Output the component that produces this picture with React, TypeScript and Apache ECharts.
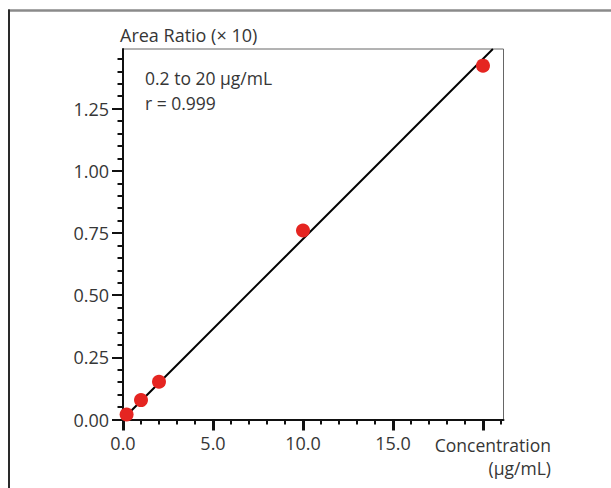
import React, { useEffect, useRef } from 'react';
import * as echarts from 'echarts';

// Calibration data
const concentration = [0.2, 1.0, 2.0, 10.0, 20.0];
const areaRatio = [0.02, 0.078, 0.152, 0.76, 1.423];
// Regression line end points
const fitX = [0, 20.55];
const fitY = [0.002, 1.49];
// Axis ticks / labels
const xMajorTicks = [0, 5, 10, 15, 20];
const xLabelValues = [0, 5, 10, 15];
const yTicks = [0, 0.25, 0.5, 0.75, 1.0, 1.25];
const yAxisTitle = 'Area Ratio (× 10)';
const xAxisTitle = ['Concentration', '(µg/mL)'];
const annotation = ['0.2 to 20 µg/mL', 'r = 0.999'];

const FONT = 'Open Sans';
const TEXT = '#363636';

export default function App() {
  const ref = useRef<HTMLDivElement>(null);
  useEffect(() => {
    if (!ref.current) return;
    const chart = echarts.init(ref.current, null, { renderer: 'svg' });
    chart.setOption({
      animation: false,
      backgroundColor: '#fff',
      grid: {
        left: 123,
        top: 49,
        right: 107.5,
        bottom: 68.5,
        show: true,
        borderColor: '#666',
        borderWidth: 1,
        backgroundColor: 'transparent',
      },
      xAxis: {
        type: 'value',
        min: 0,
        max: 21.14,
        interval: 5,
        axisLine: { show: true, onZero: false, lineStyle: { color: '#111', width: 2 } },
        axisTick: {
          show: true,
          inside: false,
          length: 11,
          customValues: xMajorTicks,
          lineStyle: { color: '#111', width: 3 },
        },
        minorTick: { show: true, splitNumber: 5, length: 5, lineStyle: { color: '#111', width: 2 } },
        splitLine: { show: false },
        axisLabel: {
          customValues: xLabelValues,
          formatter: (v: number) => v.toFixed(1),
          margin: 14,
          color: TEXT,
          fontFamily: FONT,
          fontSize: 18,
        },
      },
      yAxis: {
        type: 'value',
        min: 0,
        max: 1.49,
        interval: 0.25,
        axisLine: { show: true, onZero: false, lineStyle: { color: '#111', width: 2 } },
        axisTick: {
          show: true,
          length: 11,
          customValues: yTicks,
          lineStyle: { color: '#111', width: 2 },
        },
        minorTick: { show: true, splitNumber: 5, length: 5.5, lineStyle: { color: '#111', width: 2 } },
        splitLine: { show: false },
        axisLabel: {
          customValues: yTicks,
          formatter: (v: number) => v.toFixed(2),
          margin: 14,
          color: TEXT,
          fontFamily: FONT,
          fontSize: 18,
        },
      },
      graphic: [
        { type: 'line', shape: { x1: 8, y1: 10.5, x2: 611, y2: 10.5 }, style: { stroke: '#8a8a8a', lineWidth: 2.5 }, silent: true },
        { type: 'line', shape: { x1: 9, y1: 9.5, x2: 9, y2: 488 }, style: { stroke: '#2a2a2a', lineWidth: 2 }, silent: true },
        {
          type: 'text', x: 120, y: 35,
          style: { text: yAxisTitle, fill: TEXT, font: `18px "${FONT}"`, verticalAlign: 'middle' },
        },
        {
          type: 'text', x: 145, y: 78,
          style: { text: annotation[0], fill: TEXT, font: `17.5px "${FONT}"`, verticalAlign: 'middle' },
        },
        {
          type: 'text', x: 145, y: 103,
          style: { text: annotation[1], fill: TEXT, font: `17.5px "${FONT}"`, verticalAlign: 'middle' },
        },
        {
          type: 'text', x: 551, y: 445,
          style: { text: xAxisTitle[0], fill: TEXT, font: `17.5px "${FONT}"`, align: 'right', verticalAlign: 'middle' },
        },
        {
          type: 'text', x: 551, y: 468,
          style: { text: xAxisTitle[1], fill: TEXT, font: `17.5px "${FONT}"`, align: 'right', verticalAlign: 'middle' },
        },
      ],
      series: [
        {
          type: 'line',
          data: fitX.map((x, i) => [x, fitY[i]]),
          symbol: 'none',
          lineStyle: { color: '#000', width: 2 },
          clip: true,
          z: 2,
        },
        {
          type: 'scatter',
          data: concentration.map((x, i) => [x, areaRatio[i]]),
          symbolSize: 14,
          itemStyle: { color: '#e52521', opacity: 1 },
          clip: false,
          z: 3,
        },
      ],
    });
    return () => chart.dispose();
  }, []);
  return (
    <div
      ref={ref}
      style={{ position: 'absolute', left: 0, top: 0, width: 611, height: 488 }}
    />
  );
}
